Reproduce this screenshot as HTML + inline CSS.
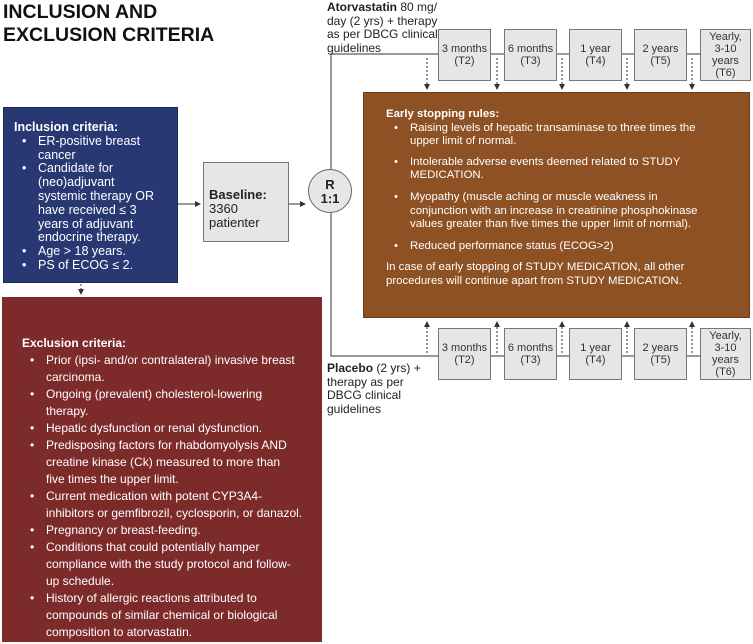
<!DOCTYPE html>
<html><head><meta charset="utf-8"><style>
*{margin:0;padding:0;box-sizing:border-box}
body{width:753px;height:644px;background:#fff;position:relative;overflow:hidden;font-family:"Liberation Sans",Arial,sans-serif;color:#222}
.a{position:absolute}
.box{position:absolute;background:#e6e6e6;border:1px solid #777;font-size:11px;text-align:center;display:flex;align-items:center;justify-content:center;line-height:12px;color:#333}
ul{list-style:none}
li{position:relative;white-space:nowrap}
li:before{content:"•";position:absolute;left:-16px}
</style></head><body>
<div class="a" style="left:3px;top:1px;font-size:19.5px;font-weight:bold;line-height:23px;color:#111">INCLUSION AND<br>EXCLUSION CRITERIA</div>

<div class="a" style="left:3px;top:107px;width:175px;height:176px;background:#283872;border:1px solid #1c2a58;color:#fff;font-size:12.5px;line-height:13.8px;padding:13px 0 0 10px">
<b>Inclusion criteria:</b>
<ul style="padding-left:24px">
<li>ER-positive breast<br>cancer</li>
<li>Candidate for<br>(neo)adjuvant<br>systemic therapy OR<br>have received ≤ 3<br>years of adjuvant<br>endocrine therapy.</li>
<li>Age &gt; 18 years.</li>
<li>PS of ECOG ≤ 2.</li>
</ul></div>

<div class="a" style="left:2px;top:297px;width:320px;height:345px;background:#7d2a2b;color:#fff;font-size:12px;line-height:17px;padding:38px 0 0 20px">
<b>Exclusion criteria:</b>
<ul style="padding-left:24px">
<li>Prior (ipsi- and/or contralateral) invasive breast<br>carcinoma.</li>
<li>Ongoing (prevalent) cholesterol-lowering<br>therapy.</li>
<li>Hepatic dysfunction or renal dysfunction.</li>
<li>Predisposing factors for rhabdomyolysis AND<br>creatine kinase (Ck) measured to more than<br>five times the upper limit.</li>
<li>Current medication with potent CYP3A4-<br>inhibitors or gemfibrozil, cyclosporin, or danazol.</li>
<li>Pregnancy or breast-feeding.</li>
<li>Conditions that could potentially hamper<br>compliance with the study protocol and follow-<br>up schedule.</li>
<li>History of allergic reactions attributed to<br>compounds of similar chemical or biological<br>composition to atorvastatin.</li>
</ul></div>

<div class="a" style="left:203px;top:162px;width:86px;height:80px;background:#e6e6e6;border:1px solid #777;font-size:13px;line-height:14px;padding:25px 0 0 5px;color:#222"><b>Baseline:</b><br>3360<br>patienter</div>

<div class="a" style="left:308px;top:169px;width:44px;height:44px;border-radius:50%;background:#e6e6e6;border:1px solid #666;font-size:13px;font-weight:bold;line-height:14px;text-align:center;padding-top:8px">R<br>1:1</div>

<div class="a" style="left:327px;top:1px;font-size:12px;line-height:13.5px;white-space:nowrap">
<b>Atorvastatin</b> 80 mg/<br>day (2 yrs) + therapy<br>as per DBCG clinical<br>guidelines</div>
<div class="a" style="left:327px;top:362px;font-size:12px;line-height:13.5px;white-space:nowrap">
<b>Placebo</b> (2 yrs) +<br>therapy as per<br>DBCG clinical<br>guidelines</div>

<div class="a" style="left:363px;top:92px;width:387px;height:226px;background:#8d5124;border:1px solid #6e3d18;color:#fff;font-size:11.4px;line-height:13.6px;padding:15px 0 0 22px">
<b>Early stopping rules:</b>
<ul style="padding-left:24px">
<li>Raising levels of hepatic transaminase to three times the<br>upper limit of normal.</li>
<li style="margin-top:7px">Intolerable adverse events deemed related to STUDY<br>MEDICATION.</li>
<li style="margin-top:8px">Myopathy (muscle aching or muscle weakness in<br>conjunction with an increase in creatinine phosphokinase<br>values greater than five times the upper limit of normal).</li>
<li style="margin-top:8px">Reduced performance status (ECOG&gt;2)</li>
</ul>
<div style="margin-top:8px;white-space:nowrap">In case of early stopping of STUDY MEDICATION, all other<br>procedures will continue apart from STUDY MEDICATION.</div>
</div>

<svg class="a" style="left:0;top:0" width="753" height="644">
<defs><marker id="m" markerWidth="6" markerHeight="6" refX="5" refY="3" orient="auto"><path d="M0,0 L6,3 L0,6z" fill="#333"/></marker></defs>
<g stroke="#333" stroke-width="1" fill="none">
<path d="M331,169 V54 H700"/>
<path d="M331,213 V356 H700"/>
<path d="M178,204 H200" marker-end="url(#m)"/>
<path d="M289,204 H305" marker-end="url(#m)"/>
<g stroke-dasharray="2,2">
<path d="M81,284 V294" marker-end="url(#m)"/>
<path d="M427,58 V89" marker-end="url(#m)"/>
<path d="M497,58 V89" marker-end="url(#m)"/>
<path d="M562,58 V89" marker-end="url(#m)"/>
<path d="M627,58 V89" marker-end="url(#m)"/>
<path d="M692,58 V89" marker-end="url(#m)"/>
<path d="M427,353 V322" marker-end="url(#m)"/>
<path d="M497,353 V322" marker-end="url(#m)"/>
<path d="M562,353 V322" marker-end="url(#m)"/>
<path d="M627,353 V322" marker-end="url(#m)"/>
<path d="M692,353 V322" marker-end="url(#m)"/>
</g></g></svg>

<div class="box" style="left:438px;top:29px;width:53px;height:52px">3 months<br>(T2)</div>
<div class="box" style="left:504px;top:29px;width:53px;height:52px">6 months<br>(T3)</div>
<div class="box" style="left:569px;top:29px;width:53px;height:52px">1 year<br>(T4)</div>
<div class="box" style="left:634px;top:29px;width:53px;height:52px">2 years<br>(T5)</div>
<div class="box" style="left:700px;top:29px;width:51px;height:52px">Yearly,<br>3-10<br>years<br>(T6)</div>
<div class="box" style="left:438px;top:328px;width:53px;height:52px">3 months<br>(T2)</div>
<div class="box" style="left:504px;top:328px;width:53px;height:52px">6 months<br>(T3)</div>
<div class="box" style="left:569px;top:328px;width:53px;height:52px">1 year<br>(T4)</div>
<div class="box" style="left:634px;top:328px;width:53px;height:52px">2 years<br>(T5)</div>
<div class="box" style="left:700px;top:328px;width:51px;height:52px">Yearly,<br>3-10<br>years<br>(T6)</div>
</body></html>
